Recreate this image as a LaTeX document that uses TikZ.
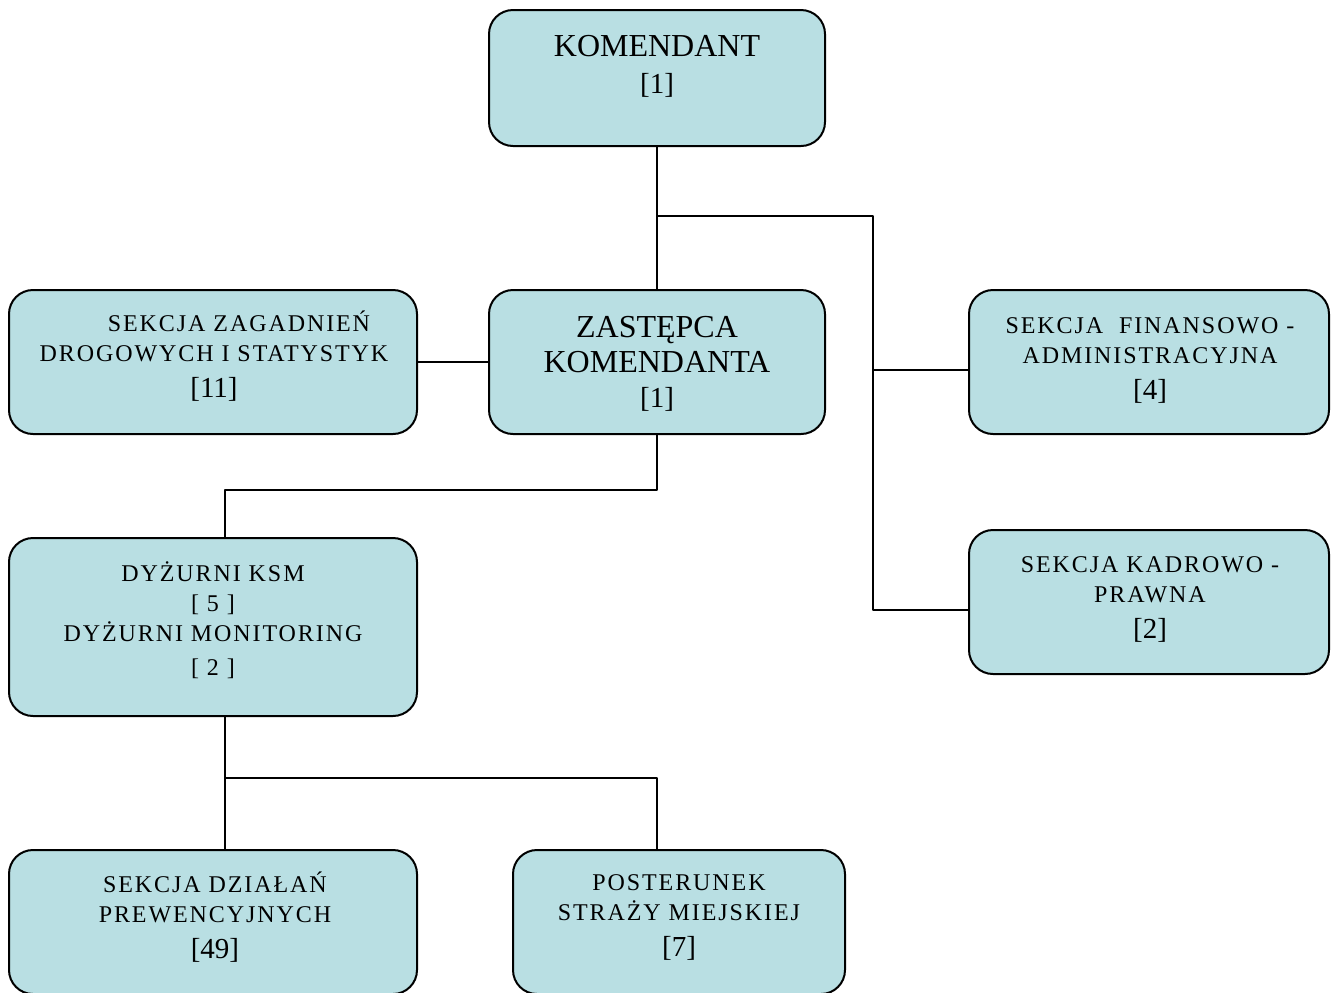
\documentclass[tikz,border=0pt]{standalone}
\usepackage{fontspec}
\setmainfont{Liberation Serif}
\usetikzlibrary{calc}
\definecolor{unitfill}{RGB}{185,223,227}
\tikzset{
  unitbox/.style={draw=black, line width=1pt, fill=unitfill, rounded corners=12pt, inner sep=0pt},
  bigtxt/.style={align=center, font=\fontsize{16}{17.5}\selectfont},
  smalltxt/.style={align=center, font=\fontsize{12}{15}\selectfont\addfontfeatures{LetterSpace=8}},
  conn/.style={line width=0.8pt}
}
\newcommand{\liczba}[1]{{\fontsize{14.5}{15}\selectfont\addfontfeatures{LetterSpace=0}[#1]}}

\begin{document}
\begin{tikzpicture}[line cap=round,line join=round,x=0.5pt,y=-0.5pt]
  \useasboundingbox (0,0) rectangle (1334,992);
  % boxes
  \node[unitbox, minimum width=168pt, minimum height=68pt] (kom) at (657,78) {};
  \node[unitbox, minimum width=168pt, minimum height=72pt] (zast) at (657,362) {};
  \node[unitbox, minimum width=204pt, minimum height=72pt] (drog) at (213,362) {};
  \node[unitbox, minimum width=180pt, minimum height=72pt] (fin) at (1149,362) {};
  \node[unitbox, minimum width=180pt, minimum height=72pt] (kadr) at (1149,602) {};
  \node[unitbox, minimum width=204pt, minimum height=89pt] (dyz) at (213,627) {};
  \node[unitbox, minimum width=204pt, minimum height=72pt] (dzial) at (213,922) {};
  \node[unitbox, minimum width=166pt, minimum height=72pt] (post) at (679,922) {};
  % texts
  \node[bigtxt] (komT) at (657,66) {KOMENDANT\\[1pt]\liczba{1}};
  \node[bigtxt] (zastT) at (657,364) {ZASTĘPCA\\KOMENDANTA\\\liczba{1}};
  \node[smalltxt] (drogT) at (214,356) {\hspace*{25pt}SEKCJA ZAGADNIEŃ\\DROGOWYCH I STATYSTYK\\[3pt]\liczba{11}};
  \node[smalltxt] (finT) at (1150,360) {SEKCJA \ FINANSOWO -\\ADMINISTRACYJNA\\[3pt]\liczba{4}};
  \node[smalltxt] (kadrT) at (1150,599) {SEKCJA KADROWO -\\PRAWNA\\[3pt]\liczba{2}};
  \node[smalltxt] (dyzT) at (213,620) {DYŻURNI KSM\\{}[ 5 ]\\DYŻURNI MONITORING\\[2pt][ 2 ]};
  \node[smalltxt] (dzialT) at (215,917) {SEKCJA DZIAŁAŃ\\PREWENCYJNYCH\\[3pt]\liczba{49}};
  \node[smalltxt] (postT) at (679,917) {POSTERUNEK\\STRAŻY MIEJSKIEJ\\[3pt]\liczba{7}};
  % junctions
  \coordinate (j1) at (657,216);
  \coordinate (j1r) at (873,216);
  \coordinate (jf) at (873,370);
  \coordinate (jk) at (873,610);
  \coordinate (j2) at (657,490);
  \coordinate (j2l) at (225,490);
  \coordinate (j3) at (225,778);
  \coordinate (j3r) at (657,778);
  % connectors
  \draw[conn] (kom.south) -- (zast.north);
  \draw[conn] (j1) -- (j1r) -- (jk) -- (jk -| kadr.west);
  \draw[conn] (jf) -- (jf -| fin.west);
  \draw[conn] (drog.east) -- (zast.west);
  \draw[conn] (zast.south) -- (j2) -- (j2l) -- (j2l |- dyz.north);
  \draw[conn] (j3 |- dyz.south) -- (j3 |- dzial.north);
  \draw[conn] (j3) -- (j3r) -- (j3r |- post.north);
\end{tikzpicture}
\end{document}
